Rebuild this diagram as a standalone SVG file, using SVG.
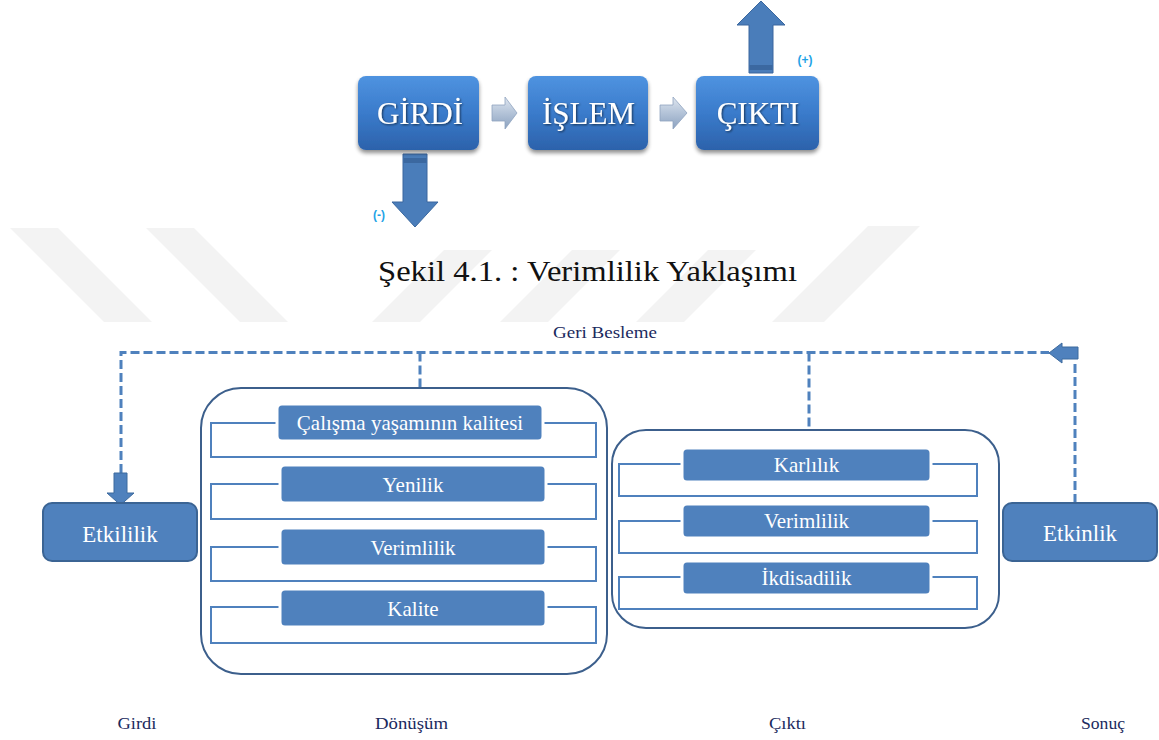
<svg xmlns="http://www.w3.org/2000/svg" width="1159" height="740" viewBox="0 0 1159 740">
<defs>
<linearGradient id="gBox" x1="0" y1="0" x2="0" y2="1">
<stop offset="0" stop-color="#4f93e0"/>
<stop offset="0.5" stop-color="#3a7bcb"/>
<stop offset="1" stop-color="#2c62ab"/>
</linearGradient>
<linearGradient id="gSmall" x1="0" y1="0" x2="0" y2="1">
<stop offset="0" stop-color="#dfe6f0"/>
<stop offset="0.5" stop-color="#b3c3d8"/>
<stop offset="1" stop-color="#8ca2c0"/>
</linearGradient>
<filter id="sh" x="-10%" y="-10%" width="130%" height="140%">
<feGaussianBlur in="SourceAlpha" stdDeviation="2"/>
<feOffset dx="0" dy="3" result="b"/>
<feComponentTransfer><feFuncA type="linear" slope="0.45"/></feComponentTransfer>
<feMerge><feMergeNode/><feMergeNode in="SourceGraphic"/></feMerge>
</filter>
<filter id="tsh" x="-10%" y="-10%" width="130%" height="140%">
<feGaussianBlur in="SourceAlpha" stdDeviation="0.8"/>
<feOffset dx="1" dy="1" result="b"/>
<feComponentTransfer><feFuncA type="linear" slope="0.6"/></feComponentTransfer>
<feMerge><feMergeNode/><feMergeNode in="SourceGraphic"/></feMerge>
</filter>
</defs>
<style>
.wm{fill:#f3f3f3;}
.topbox{fill:url(#gBox);}
.toptxt{font-family:"Liberation Serif",serif;font-size:31px;fill:#ffffff;text-anchor:middle;}
.small{fill:url(#gSmall);stroke:#8fa3bf;stroke-width:0.8;}
.big{fill:#4a7dba;stroke:#3a679e;stroke-width:1;}
.band{fill:#3b68a0;}
.pm{font-family:"Liberation Sans",sans-serif;font-size:12px;font-weight:bold;fill:#1fa3e6;text-anchor:middle;}
.title{font-family:"Liberation Serif",serif;font-size:29px;fill:#111111;text-anchor:middle;}
.dash{fill:none;stroke:#4f81bd;stroke-width:3;stroke-dasharray:9 4;}
.farrow{fill:#4f81bd;stroke:#3d6a9e;stroke-width:1;}
.cont{fill:#ffffff;stroke:#3c5f8c;stroke-width:2;}
.outl{fill:#ffffff;stroke:#4f81bd;stroke-width:2;}
.lab{fill:#4f81bd;stroke:#ffffff;stroke-width:3;}
.labtxt{font-family:"Liberation Serif",serif;font-size:21px;fill:#ffffff;text-anchor:middle;}
.side{fill:#4f81bd;stroke:#3b6494;stroke-width:2;}
.sidetxt{font-family:"Liberation Serif",serif;font-size:23px;fill:#ffffff;text-anchor:middle;}
.navy{font-family:"Liberation Serif",serif;font-size:17px;fill:#1b2a5e;text-anchor:middle;}
</style>

<g id="watermark">
<polygon class="wm" points="10,228 58,228 152,322 104,322"/>
<polygon class="wm" points="146,228 194,228 288,322 240,322"/>
<polygon class="wm" points="444,250 492,250 420,322 372,322"/>
<polygon class="wm" points="572,250 620,250 548,322 500,322"/>
<polygon class="wm" points="708,250 756,250 684,322 636,322"/>
<polygon class="wm" points="868,226 920,226 824,322 772,322"/>
</g>

<g id="top-connectors">
<path class="small" d="M492,105 L505,105 L505,97 L517,113 L505,129 L505,121 L492,121 Z"/>
<path class="small" d="M660,105 L673,105 L673,97 L687,113 L673,129 L673,121 L660,121 Z"/>
<path class="big" d="M749,73 L749,25 L737,25 L761,1 L785,25 L773,25 L773,73 Z"/>
<rect class="band" x="749.5" y="65" width="23" height="5"/>
<path class="big" d="M403,154 L403,202 L392,202 L415,227 L438,202 L427,202 L427,154 Z"/>
<rect class="band" x="403.5" y="158" width="23" height="5"/>
<text class="pm" x="805" y="64">(+)</text>
<text class="pm" x="379" y="219">(-)</text>
</g>

<g id="girdi-top" filter="url(#sh)">
<rect class="topbox" x="358" y="76" width="121" height="74" rx="8"/>
<text class="toptxt" x="420" y="124" filter="url(#tsh)">GİRDİ</text>
</g>
<g id="islem-top" filter="url(#sh)">
<rect class="topbox" x="528" y="76" width="120" height="74" rx="8"/>
<text class="toptxt" x="588.5" y="124" filter="url(#tsh)">İŞLEM</text>
</g>
<g id="cikti-top" filter="url(#sh)">
<rect class="topbox" x="696" y="76" width="123" height="74" rx="8"/>
<text class="toptxt" x="758" y="124" filter="url(#tsh)">ÇIKTI</text>
</g>

<text class="title" x="587.5" y="281" textLength="419" lengthAdjust="spacingAndGlyphs">Şekil 4.1. : Verimlilik Yaklaşımı</text>

<text class="navy" x="605" y="338" textLength="104" lengthAdjust="spacingAndGlyphs">Geri Besleme</text>

<g id="connectors">
<path class="dash" d="M121,473 L121,352.5 L1049,352.5"/>
<path class="dash" d="M420,352.5 L420,388"/>
<path class="dash" d="M809,352.5 L809,430"/>
<path class="dash" d="M1075,503 L1075,360"/>
<path class="farrow" d="M114,473 L127,473 L127,493 L134,493 L120.5,505 L107,493 L114,493 Z"/>
<path class="farrow" d="M1078,347 L1062,347 L1062,343 L1049,353 L1062,363 L1062,359 L1078,359 Z"/>
</g>

<g id="etkililik">
<rect class="side" x="43" y="503" width="154" height="58" rx="9"/>
<text class="sidetxt" x="120" y="542">Etkililik</text>
</g>

<g id="donusum">
<rect class="cont" x="201" y="388" width="406" height="286" rx="40"/>
<rect class="outl" x="211" y="423" width="385" height="34"/>
<rect class="lab" x="277" y="404" width="266" height="37" rx="5"/>
<text class="labtxt" x="410" y="430">Çalışma yaşamının kalitesi</text>
<rect class="outl" x="211" y="484" width="385" height="35"/>
<rect class="lab" x="280" y="465" width="266" height="38" rx="5"/>
<text class="labtxt" x="413" y="491.5">Yenilik</text>
<rect class="outl" x="211" y="547" width="385" height="34"/>
<rect class="lab" x="280" y="528" width="266" height="38" rx="5"/>
<text class="labtxt" x="413" y="554.5">Verimlilik</text>
<rect class="outl" x="211" y="607" width="385" height="36"/>
<rect class="lab" x="280" y="589" width="266" height="38" rx="5"/>
<text class="labtxt" x="413" y="615.5">Kalite</text>
</g>

<g id="cikti">
<rect class="cont" x="612" y="430" width="387" height="198" rx="34"/>
<rect class="outl" x="619" y="464" width="358" height="32"/>
<rect class="lab" x="682" y="448" width="249" height="34" rx="5"/>
<text class="labtxt" x="806.5" y="472">Karlılık</text>
<rect class="outl" x="619" y="521" width="358" height="32"/>
<rect class="lab" x="682" y="504" width="249" height="34" rx="5"/>
<text class="labtxt" x="806.5" y="528">Verimlilik</text>
<rect class="outl" x="619" y="577" width="358" height="32"/>
<rect class="lab" x="682" y="561" width="249" height="34" rx="5"/>
<text class="labtxt" x="806.5" y="585">İkdisadilik</text>
</g>

<g id="etkinlik">
<rect class="side" x="1003" y="503" width="154" height="58" rx="9"/>
<text class="sidetxt" x="1080" y="541">Etkinlik</text>
</g>

<g id="bottom-labels">
<text class="navy" x="137" y="729" textLength="39" lengthAdjust="spacingAndGlyphs">Girdi</text>
<text class="navy" x="411.5" y="729" textLength="73" lengthAdjust="spacingAndGlyphs">Dönüşüm</text>
<text class="navy" x="787.5" y="729" textLength="37" lengthAdjust="spacingAndGlyphs">Çıktı</text>
<text class="navy" x="1103" y="729" textLength="44" lengthAdjust="spacingAndGlyphs">Sonuç</text>
</g>
</svg>
